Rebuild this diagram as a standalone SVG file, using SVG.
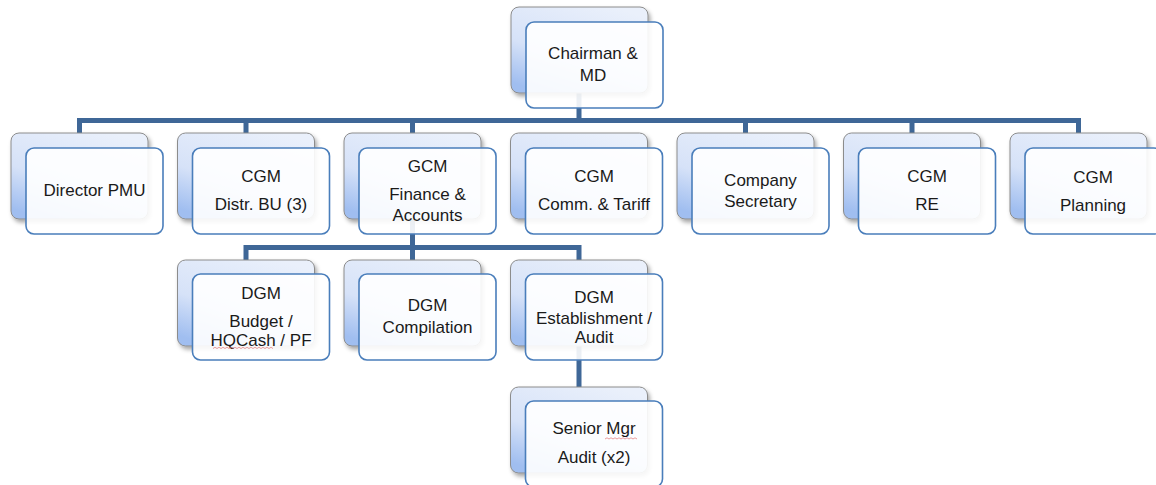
<svg xmlns="http://www.w3.org/2000/svg" width="1156" height="485" viewBox="0 0 1156 485">
<defs>
<linearGradient id="bg" x1="0.75" y1="0" x2="0.25" y2="1">
<stop offset="0" stop-color="#EAF0FB"/>
<stop offset="0.6" stop-color="#D6E2F8"/>
<stop offset="1" stop-color="#A0BEF0"/>
</linearGradient>
<filter id="sh" x="-10%" y="-10%" width="130%" height="130%">
<feDropShadow dx="2" dy="3" stdDeviation="2" flood-color="#000" flood-opacity="0.35"/>
</filter>
</defs>
<style>
.back{fill:url(#bg);stroke:#8C8C8C;stroke-width:1;filter:url(#sh)}
.front{fill:#FFFFFF;fill-opacity:0.9;stroke:#4A7EBB;stroke-width:1.6}
.con{stroke:#3F6797;stroke-width:5;fill:none;stroke-linejoin:miter}
text{font-family:"Liberation Sans",Arial,sans-serif;font-size:17px;fill:#1a1a1a;text-anchor:middle}
.sq{stroke:#E06666;stroke-width:0.8;fill:none;opacity:0.8}
</style>
<rect width="1156" height="485" fill="#FFFFFF"/>
<g id="connectors">
<path class="con" d="M579,93 V120.5"/>
<path class="con" d="M79.5,133 V120.5 H1078.5 V133"/>
<path class="con" d="M246,133 V120.5 M412.5,133 V120.5 M745.5,133 V120.5 M912,133 V120.5"/>
<path class="con" d="M412.5,219 V247.5"/>
<path class="con" d="M246,260 V247.5 H579 V260"/>
<path class="con" d="M412.5,260 V247.5"/>
<path class="con" d="M579,346 V387"/>
</g>
<g id="chairman">
<rect class="back" x="511" y="7" width="137" height="86" rx="8"/>
<rect class="front" x="526" y="22" width="137" height="86" rx="8"/>
<text x="593" y="59">Chairman &amp;</text>
<text x="593" y="81">MD</text>
</g>
<g id="director-pmu">
<rect class="back" x="11" y="133" width="137" height="86" rx="8"/>
<rect class="front" x="26" y="148" width="137" height="86" rx="8"/>
<text x="94.5" y="196">Director PMU</text>
</g>
<g id="cgm-distr">
<rect class="back" x="177.5" y="133" width="137" height="86" rx="8"/>
<rect class="front" x="192.5" y="148" width="137" height="86" rx="8"/>
<text x="261" y="182">CGM</text>
<text x="261" y="210">Distr. BU (3)</text>
</g>
<g id="gcm-finance">
<rect class="back" x="344" y="133" width="137" height="86" rx="8"/>
<rect class="front" x="359" y="148" width="137" height="86" rx="8"/>
<text x="427.5" y="172">GCM</text>
<text x="427.5" y="200">Finance &amp;</text>
<text x="427.5" y="221">Accounts</text>
</g>
<g id="cgm-comm">
<rect class="back" x="510.5" y="133" width="137" height="86" rx="8"/>
<rect class="front" x="525.5" y="148" width="137" height="86" rx="8"/>
<text x="594" y="182">CGM</text>
<text x="594" y="210">Comm. &amp; Tariff</text>
</g>
<g id="company-secretary">
<rect class="back" x="677" y="133" width="137" height="86" rx="8"/>
<rect class="front" x="692" y="148" width="137" height="86" rx="8"/>
<text x="760.5" y="186">Company</text>
<text x="760.5" y="207">Secretary</text>
</g>
<g id="cgm-re">
<rect class="back" x="843.5" y="133" width="137" height="86" rx="8"/>
<rect class="front" x="858.5" y="148" width="137" height="86" rx="8"/>
<text x="927" y="182">CGM</text>
<text x="927" y="210">RE</text>
</g>
<g id="cgm-planning">
<rect class="back" x="1010" y="133" width="137" height="86" rx="8"/>
<rect class="front" x="1025" y="148" width="137" height="86" rx="8"/>
<text x="1093" y="183">CGM</text>
<text x="1093" y="211">Planning</text>
</g>
<g id="dgm-budget">
<rect class="back" x="177.5" y="260" width="137" height="86" rx="8"/>
<rect class="front" x="192.5" y="274" width="137" height="86" rx="8"/>
<text x="261" y="299">DGM</text>
<text x="261" y="327">Budget /</text>
<text x="261" y="346">HQCash / PF</text>
<path class="sq" d="M213,348.5 l2,-1.2 l2,1.2 l2,-1.2 l2,1.2 l2,-1.2 l2,1.2 l2,-1.2 l2,1.2 l2,-1.2 l2,1.2 l2,-1.2 l2,1.2 l2,-1.2 l2,1.2 l2,-1.2 l2,1.2 l2,-1.2 l2,1.2 l2,-1.2 l2,1.2 l2,-1.2 l2,1.2 l2,-1.2 l2,1.2 l2,-1.2 l2,1.2 l2,-1.2 l2,1.2 l2,-1.2 l2,1.2"/>
</g>
<g id="dgm-compilation">
<rect class="back" x="344" y="260" width="137" height="86" rx="8"/>
<rect class="front" x="359" y="274" width="137" height="86" rx="8"/>
<text x="427.5" y="311">DGM</text>
<text x="427.5" y="333">Compilation</text>
</g>
<g id="dgm-establishment">
<rect class="back" x="510.5" y="260" width="137" height="86" rx="8"/>
<rect class="front" x="525.5" y="274" width="137" height="86" rx="8"/>
<text x="594" y="303">DGM</text>
<text x="594" y="324">Establishment /</text>
<text x="594" y="343">Audit</text>
</g>
<g id="senior-mgr-audit">
<rect class="back" x="510.5" y="387" width="137" height="86" rx="8"/>
<rect class="front" x="525.5" y="401" width="137" height="86" rx="8"/>
<text x="594" y="434">Senior Mgr</text>
<text x="594" y="463">Audit (x2)</text>
<path class="sq" d="M605,439 l2,-1.2 l2,1.2 l2,-1.2 l2,1.2 l2,-1.2 l2,1.2 l2,-1.2 l2,1.2 l2,-1.2 l2,1.2 l2,-1.2 l2,1.2 l2,-1.2 l2,1.2 l2,-1.2 l2,1.2"/>
</g>
</svg>
